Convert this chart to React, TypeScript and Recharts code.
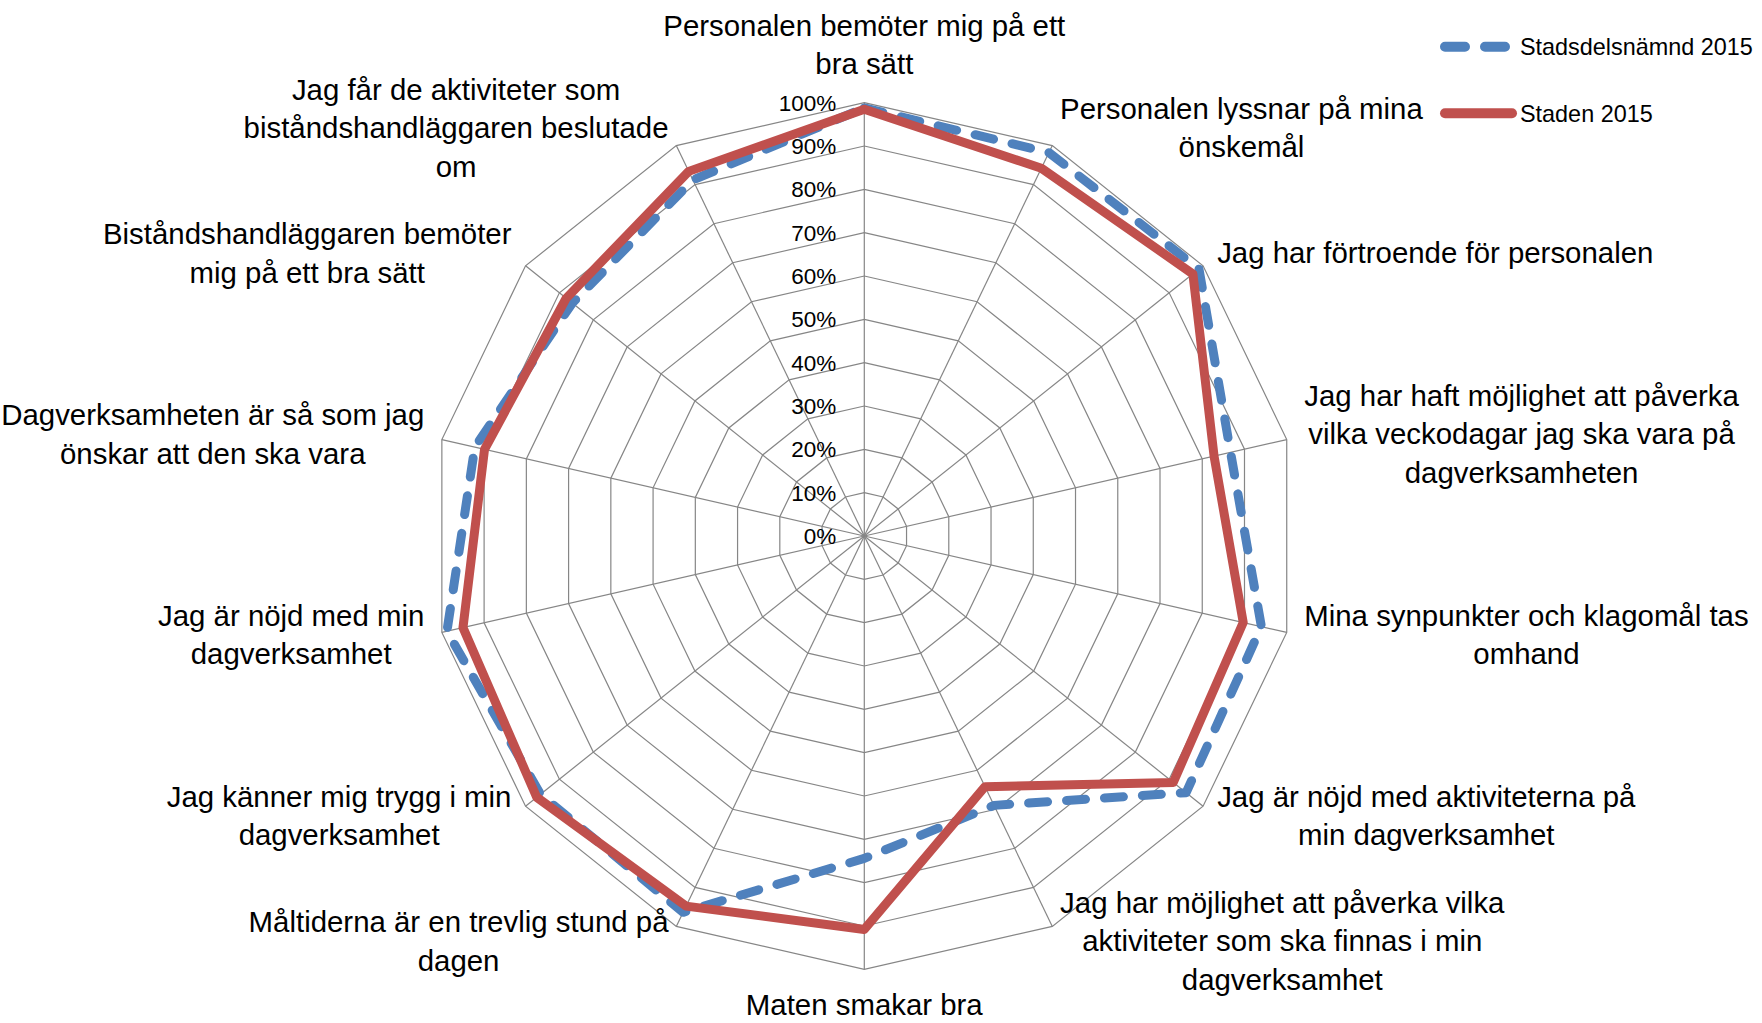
import React from 'react';
import { RadarChart, Radar, PolarGrid, PolarAngleAxis, PolarRadiusAxis } from 'recharts';

// ---------- data ----------
const categories: string[] = [
  'Personalen bemöter mig på ett bra sätt',
  'Personalen lyssnar på mina önskemål',
  'Jag har förtroende för personalen',
  'Jag har haft möjlighet att påverka vilka veckodagar jag ska vara på dagverksamheten',
  'Mina synpunkter och klagomål tas omhand',
  'Jag är nöjd med aktiviteterna på min dagverksamhet',
  'Jag har möjlighet att påverka vilka aktiviteter som ska finnas i min dagverksamhet',
  'Maten smakar bra',
  'Måltiderna är en trevlig stund på dagen',
  'Jag känner mig trygg i min dagverksamhet',
  'Jag är nöjd med min dagverksamhet',
  'Dagverksamheten är så som jag önskar att den ska vara',
  'Biståndshandläggaren bemöter mig på ett bra sätt',
  'Jag får de aktiviteter som biståndshandläggaren beslutade om',
];

const categoryLines: string[][] = [
  ['Personalen bemöter mig på ett', 'bra sätt'],
  ['Personalen lyssnar på mina', 'önskemål'],
  ['Jag har förtroende för personalen'],
  ['Jag har haft möjlighet att påverka', 'vilka veckodagar jag ska vara på', 'dagverksamheten'],
  ['Mina synpunkter och klagomål tas', 'omhand'],
  ['Jag är nöjd med aktiviteterna på', 'min dagverksamhet'],
  ['Jag har möjlighet att påverka vilka', 'aktiviteter som ska finnas i min', 'dagverksamhet'],
  ['Maten smakar bra'],
  ['Måltiderna är en trevlig stund på', 'dagen'],
  ['Jag känner mig trygg i min', 'dagverksamhet'],
  ['Jag är nöjd med min', 'dagverksamhet'],
  ['Dagverksamheten är så som jag', 'önskar att den ska vara'],
  ['Biståndshandläggaren bemöter', 'mig på ett bra sätt'],
  ['Jag får de aktiviteter som', 'biståndshandläggaren beslutade', 'om'],
];

const stadsdelsnamnd2015: number[] = [98.8, 98.2, 98.8, 86.7, 94, 95, 69, 74.4, 96.4, 95.6, 98.8, 92.2, 86.2, 91.2];
const staden2015: number[] = [98.5, 94.2, 97, 82.8, 89.7, 91.2, 64.2, 90.8, 94.8, 96.7, 95, 89.9, 88, 93.4];

const seriesNames: string[] = ['Stadsdelsnämnd 2015', 'Staden 2015'];
const radiusTickCount = 11;

const data = categories.map((c, i) => ({
  category: c,
  sdn: stadsdelsnamnd2015[i],
  staden: staden2015[i],
}));

// ---------- layout ----------
const W = 1762;
const H = 1023;
const CX = 864.3;
const CY = 536;
const R = 433.3;
const LABEL_GAP = 18;
const FONT = '"Liberation Sans", Arial, sans-serif';
const CAT_FS = 29.4;
const CAT_LH = 38.5;
const TICK_FS = 22.5;
const LEG_FS = 23.4;
const BLUE = '#4F81BD';
const RED = '#C0504D';
const GRID = '#868686';

let measureCtx: CanvasRenderingContext2D | null = null;
function measure(text: string, fs: number): number {
  if (!measureCtx) {
    const c = document.createElement('canvas');
    measureCtx = c.getContext('2d');
  }
  if (!measureCtx) return text.length * fs * 0.5;
  measureCtx.font = `${fs}px "Liberation Sans"`;
  return measureCtx.measureText(text).width;
}

const CategoryTick = (props: any) => {
  const { x, y, payload } = props;
  const idx = categories.indexOf(payload.value);
  const lines = idx >= 0 ? categoryLines[idx] : [String(payload.value)];
  const dx = x - CX;
  const dy = y - CY;
  const len = Math.sqrt(dx * dx + dy * dy) || 1;
  const ux = dx / len;
  const uy = dy / len;
  const ax = CX + ux * (R + LABEL_GAP);
  const ay = CY + uy * (R + LABEL_GAP);
  const blockW = Math.max(...lines.map((l) => measure(l, CAT_FS)));
  let centerX = ax;
  if (ux > 1e-3) centerX = ax + blockW / 2;
  else if (ux < -1e-3) centerX = ax - blockW / 2;
  const n = lines.length;
  const centers: number[] = lines.map((_, i) => {
    if (Math.abs(ux) <= 1e-3) {
      if (uy < 0) return ay - (n - i - 0.5) * CAT_LH;
      return ay + (i + 0.5) * CAT_LH;
    }
    return ay + (i - (n - 1) / 2) * CAT_LH;
  });
  return (
    <g>
      {lines.map((l, i) => (
        <text
          key={i}
          x={centerX}
          y={centers[i] + CAT_FS * 0.3}
          textAnchor="middle"
          fontFamily={FONT}
          fontSize={CAT_FS}
          fill="#000"
        >
          {l}
        </text>
      ))}
    </g>
  );
};

const RadiusTick = (props: any) => {
  const { x, y, payload } = props;
  return (
    <text x={x - 28} y={y + 8} textAnchor="end" fontFamily={FONT} fontSize={TICK_FS} fill="#000">
      {`${payload.value}%`}
    </text>
  );
};

const LegendBox = () => (
  <svg width={W} height={H} style={{ position: 'absolute', left: 0, top: 0, pointerEvents: 'none' }}>
    <line x1={1445} y1={46.7} x2={1505} y2={46.7} stroke={BLUE} strokeWidth={10} strokeDasharray="20 20" strokeLinecap="round" />
    <text x={1520} y={46.7 + 8.5} fontFamily={FONT} fontSize={LEG_FS} fill="#000">{seriesNames[0]}</text>
    <line x1={1445} y1={113.3} x2={1512} y2={113.3} stroke={RED} strokeWidth={10} strokeLinecap="round" />
    <text x={1520} y={113.3 + 8.5} fontFamily={FONT} fontSize={LEG_FS} fill="#000">{seriesNames[1]}</text>
  </svg>
);

export default function App() {
  return (
    <div style={{ position: 'absolute', left: 0, top: 0, width: W, height: H, background: '#fff' }}>
      <RadarChart
        width={W}
        height={H}
        data={data}
        cx={CX}
        cy={CY}
        outerRadius={R}
        startAngle={90}
        endAngle={-270}
        margin={{ top: 0, right: 0, bottom: 0, left: 0 }}
      >
        <PolarGrid gridType="polygon" stroke={GRID} strokeWidth={1.2} />
        <PolarAngleAxis dataKey="category" tick={CategoryTick} tickLine={false} axisLine={false} />
        <PolarRadiusAxis
          type="number"
          angle={90}
          domain={[0, 100]}
          tickCount={radiusTickCount}
          axisLine={false}
          tick={RadiusTick}
        />
        <Radar
          name={seriesNames[0]}
          dataKey="sdn"
          stroke={BLUE}
          strokeWidth={9}
          strokeDasharray="19 19"
          strokeLinecap="round"
          strokeLinejoin="round"
          fill="none"
          fillOpacity={0}
          dot={false}
          isAnimationActive={false}
        />
        <Radar
          name={seriesNames[1]}
          dataKey="staden"
          stroke={RED}
          strokeWidth={9}
          strokeLinejoin="round"
          fill="none"
          fillOpacity={0}
          dot={false}
          isAnimationActive={false}
        />
      </RadarChart>
      <LegendBox />
    </div>
  );
}
